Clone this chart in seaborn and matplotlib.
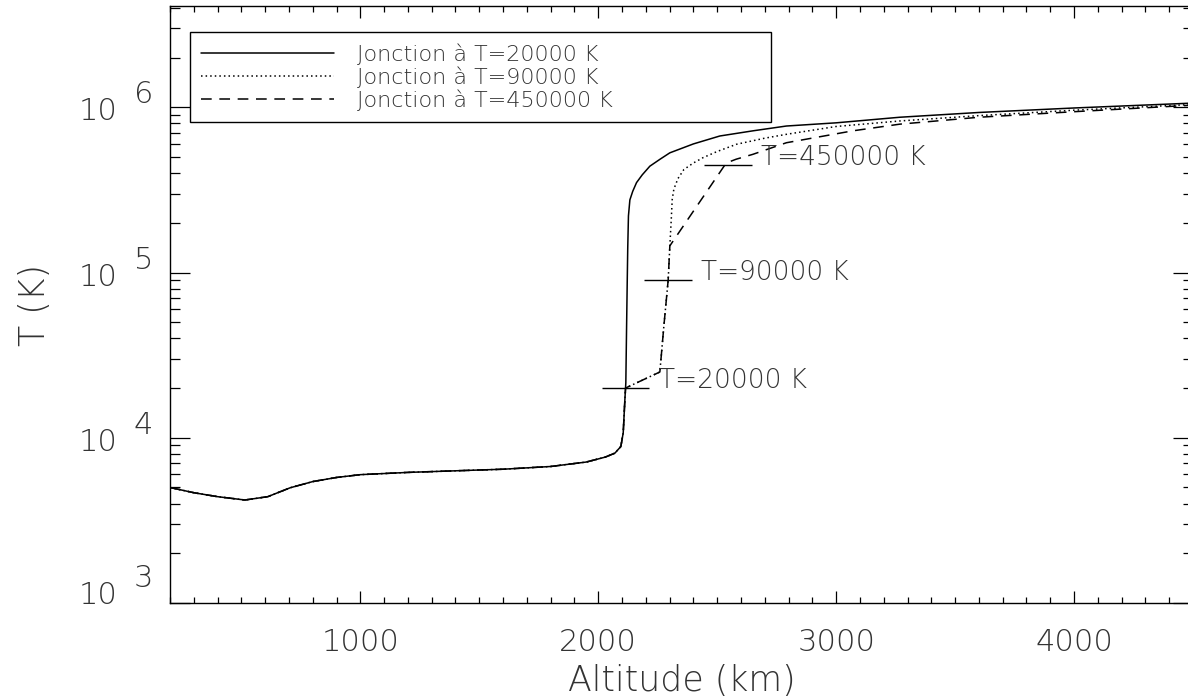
import matplotlib
matplotlib.use("Agg")
import matplotlib.pyplot as plt
import seaborn as sns
from matplotlib.ticker import FixedLocator, MultipleLocator, LogLocator, NullFormatter
from matplotlib.transforms import blended_transform_factory, offset_copy

# chromosphere part, common to the three models
alt_base = [200, 300, 400, 515, 611, 705, 800, 900, 1000, 1200, 1400, 1600,
            1800, 1950, 2030, 2070, 2095, 2105, 2112]
T_base = [5000, 4650, 4400, 4200, 4400, 4980, 5430, 5750, 5980, 6170, 6310, 6450,
          6700, 7130, 7640, 8070, 8850, 10700, 17000]

# upper parts for each junction temperature
alt_20 = [2116, 2119, 2122, 2124, 2127, 2133, 2145, 2161, 2185, 2217, 2260, 2301,
          2400, 2511, 2650, 2791, 3000, 3267, 3600, 4000, 4500]
T_20 = [21500, 45000, 90000, 140000, 220000, 275000, 310000, 350000, 390000, 440000,
        485000, 530000, 600000, 670000, 720000, 770000, 805000, 870000, 930000,
        990000, 1060000]

alt_90 = [2115, 2259, 2276, 2294, 2301, 2307, 2311, 2318, 2335, 2360, 2400, 2440,
          2500, 2581, 2700, 2791, 3000, 3267, 3600, 4000, 4500]
T_90 = [20000, 25000, 47600, 90000, 145000, 210000, 277000, 320000, 370000, 420000,
        460000, 495000, 540000, 597000, 650000, 686000, 765000, 826000, 890000,
        960000, 1040000]

alt_450 = [2115, 2259, 2276, 2294, 2301, 2400, 2538, 2580, 2650, 2791, 3070, 3267,
           3600, 4000, 4500]
T_450 = [20000, 25000, 47600, 90000, 145000, 235000, 460000, 485000, 519000, 610000,
         720000, 790000, 870000, 940000, 1030000]

legend_labels = ["Jonction à T=20000 K", "Jonction à T=90000 K", "Jonction à T=450000 K"]
junction_T = [20000, 90000, 450000]
junction_alt = [2115, 2293, 2545]
junction_labels = ["T=20000 K", "T=90000 K", "T=450000 K"]
x_ticks = [1000, 2000, 3000, 4000]
y_decades = [3, 4, 5, 6]

sns.set_theme(style="ticks")
plt.rcParams["font.family"] = ["DejaVu Sans"]
plt.rcParams["font.weight"] = 200
txt = "#333333"

fig = plt.figure(figsize=(11.88, 7), dpi=100)
ax = fig.add_axes([170 / 1188, 97 / 700, 1023 / 1188, 597 / 700])
ax.set_yscale("log")

curves = [
    (legend_labels[0], alt_base + alt_20, T_base + T_20, "-"),
    (legend_labels[1], alt_base + alt_90, T_base + T_90, (0, (1, 2))),
    (legend_labels[2], alt_base + alt_450, T_base + T_450, (0, (7, 5))),
]
for lab, alt, T, ls in curves:
    sns.lineplot(x=alt, y=T, ax=ax, color="black", lw=1.1, linestyle=ls,
                 estimator=None, sort=False, label=lab)

# junction markers
for a, T, lab in zip(junction_alt, junction_T, junction_labels):
    ax.hlines(T, a - 100, a + 100, color="black", lw=1.0)
    ax.annotate(lab, xy=(a + 100, T), xytext=(7, 0), textcoords="offset points",
                va="baseline", ha="left", fontsize=19, color=txt, fontweight=200)

ax.set_xlim(200, 4500)
ax.set_ylim(1e3, 4.1e6)

ax.xaxis.set_major_locator(FixedLocator(x_ticks))
ax.xaxis.set_minor_locator(MultipleLocator(100))
ax.yaxis.set_major_locator(LogLocator(base=10, numticks=10))
ax.yaxis.set_minor_locator(LogLocator(base=10, subs=range(2, 10), numticks=20))
ax.yaxis.set_major_formatter(NullFormatter())
ax.yaxis.set_minor_formatter(NullFormatter())

ax.tick_params(axis="x", which="major", direction="in", length=8.6, width=0.9,
               color="black", top=True, bottom=True, pad=18, labelsize=22,
               labelcolor=txt)
ax.tick_params(axis="x", which="minor", direction="in", length=4.3, width=0.9,
               color="black", top=True, bottom=True)
ax.tick_params(axis="y", which="major", direction="in", length=14.4, width=0.9,
               color="black", left=True, right=True)
ax.tick_params(axis="y", which="minor", direction="in", length=7.2, width=0.9,
               color="black", left=True, right=True)
for s in ax.spines.values():
    s.set_color("black")
    s.set_linewidth(1.0)

# IDL-like 10^n labels with full-size exponent
trans = blended_transform_factory(ax.transAxes, ax.transData)
for e in y_decades:
    lift = 12 if e == y_decades[0] else 0
    ax.text(0, 10.0 ** e, "10", ha="right", va="baseline", fontsize=22, color=txt,
            fontweight=200,
            transform=offset_copy(trans, fig=fig, x=-52, y=-13 + lift, units="dots"))
    ax.text(0, 10.0 ** e, str(e), ha="right", va="baseline", fontsize=22, color=txt,
            fontweight=200,
            transform=offset_copy(trans, fig=fig, x=-17, y=4 + lift, units="dots"))

ax.set_xlabel("Altitude (km)", fontsize=25, color=txt, fontweight=200)
ax.xaxis.set_label_coords(0.5, -0.102)
ax.set_ylabel("T (K)", fontsize=25, color=txt, fontweight=200)
ax.yaxis.set_label_coords(-0.115, 0.5)

handles, _ = ax.get_legend_handles_labels()
leg = ax.legend(handles, legend_labels, loc="upper left",
                bbox_to_anchor=(20 / 1023, 1 - 113 / 597, 581 / 1023, 87 / 597),
                mode="expand", borderaxespad=0, fancybox=False, framealpha=1,
                edgecolor="black", handlelength=6.0, handletextpad=1.0,
                borderpad=0.5, labelspacing=0.08, labelcolor=txt,
                prop={"family": "DejaVu Sans", "weight": 200, "size": 16})
leg.get_frame().set_linewidth(1.0)

fig.savefig("out.png", dpi=100)
